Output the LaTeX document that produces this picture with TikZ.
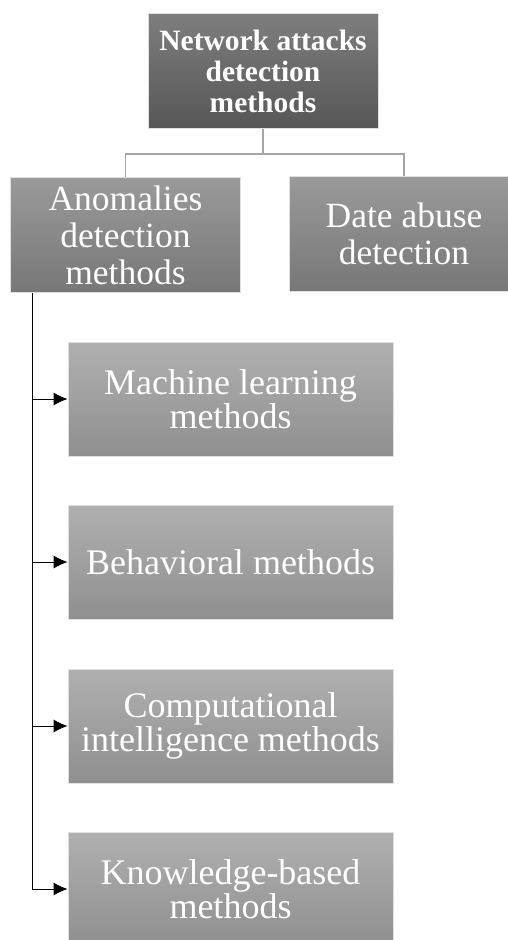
\documentclass[tikz,border=0pt]{standalone}
\usepackage{fontspec}
\setmainfont{Liberation Serif}
\usetikzlibrary{positioning}
\usetikzlibrary{arrows.meta}
\definecolor{rootTop}{HTML}{7E7E7E}
\definecolor{rootBot}{HTML}{565656}
\definecolor{midTop}{HTML}{9A9A9A}
\definecolor{midBot}{HTML}{777777}
\definecolor{leafTop}{HTML}{B0B0B0}
\definecolor{leafBot}{HTML}{8F8F8F}
\definecolor{linkgray}{HTML}{A6A6A6}
\tikzstyle{gbox}=[rectangle,draw=black!12,line width=0.8pt,text=white,align=center,minimum width=230pt,minimum height=115pt,inner sep=0pt]
\tikzstyle{rootbox}=[gbox,top color=rootTop,bottom color=rootBot,font=\fontsize{29.5}{31}\selectfont\bfseries]
\tikzstyle{midbox}=[gbox,top color=midTop,bottom color=midBot,font=\fontsize{35.5}{37}\selectfont]
\tikzstyle{leafbox}=[gbox,top color=leafTop,bottom color=leafBot,minimum width=325pt,minimum height=114pt,font=\fontsize{36}{34}\selectfont]
\tikzstyle{link}=[linkgray,line width=1.2pt]
\tikzstyle{feed}=[black,line width=1pt,-{Latex[length=14pt,width=13pt]}]

\begin{document}
\begin{tikzpicture}[x=1pt,y=-1pt]
\useasboundingbox (0,0) rectangle (507,940);

%Tree
    \node[rootbox] (root) at (263,71) {Network attacks\\detection\\methods};
    \node[midbox] (anom) at (125.5,235) {Anomalies\\detection\\methods};
    \node[midbox] (abuse) at (404,234) {Date abuse\\detection};

    \draw[link] (root.south) -- ++(0,25) -| (anom.north);
    \draw[link] (root.south) -- ++(0,25) -| (abuse.north);

%Methods
    \coordinate (trunk) at ([xshift=22pt]anom.south west);
    \foreach \pos/\name/\label in {{399/ml/Machine learning\\methods}, {562/beh/Behavioral methods}, {726/ci/Computational\\intelligence methods}, {889/kb/Knowledge-based\\methods}}
        \node[leafbox] (\name) at (230.5,\pos) {\label};

    \draw[black,line width=1pt] (trunk) -- (trunk |- kb.west);
    \foreach \dest in {ml, beh, ci, kb}
        \draw[feed] (trunk |- \dest.west) -- (\dest.west);

\end{tikzpicture}
\end{document}
